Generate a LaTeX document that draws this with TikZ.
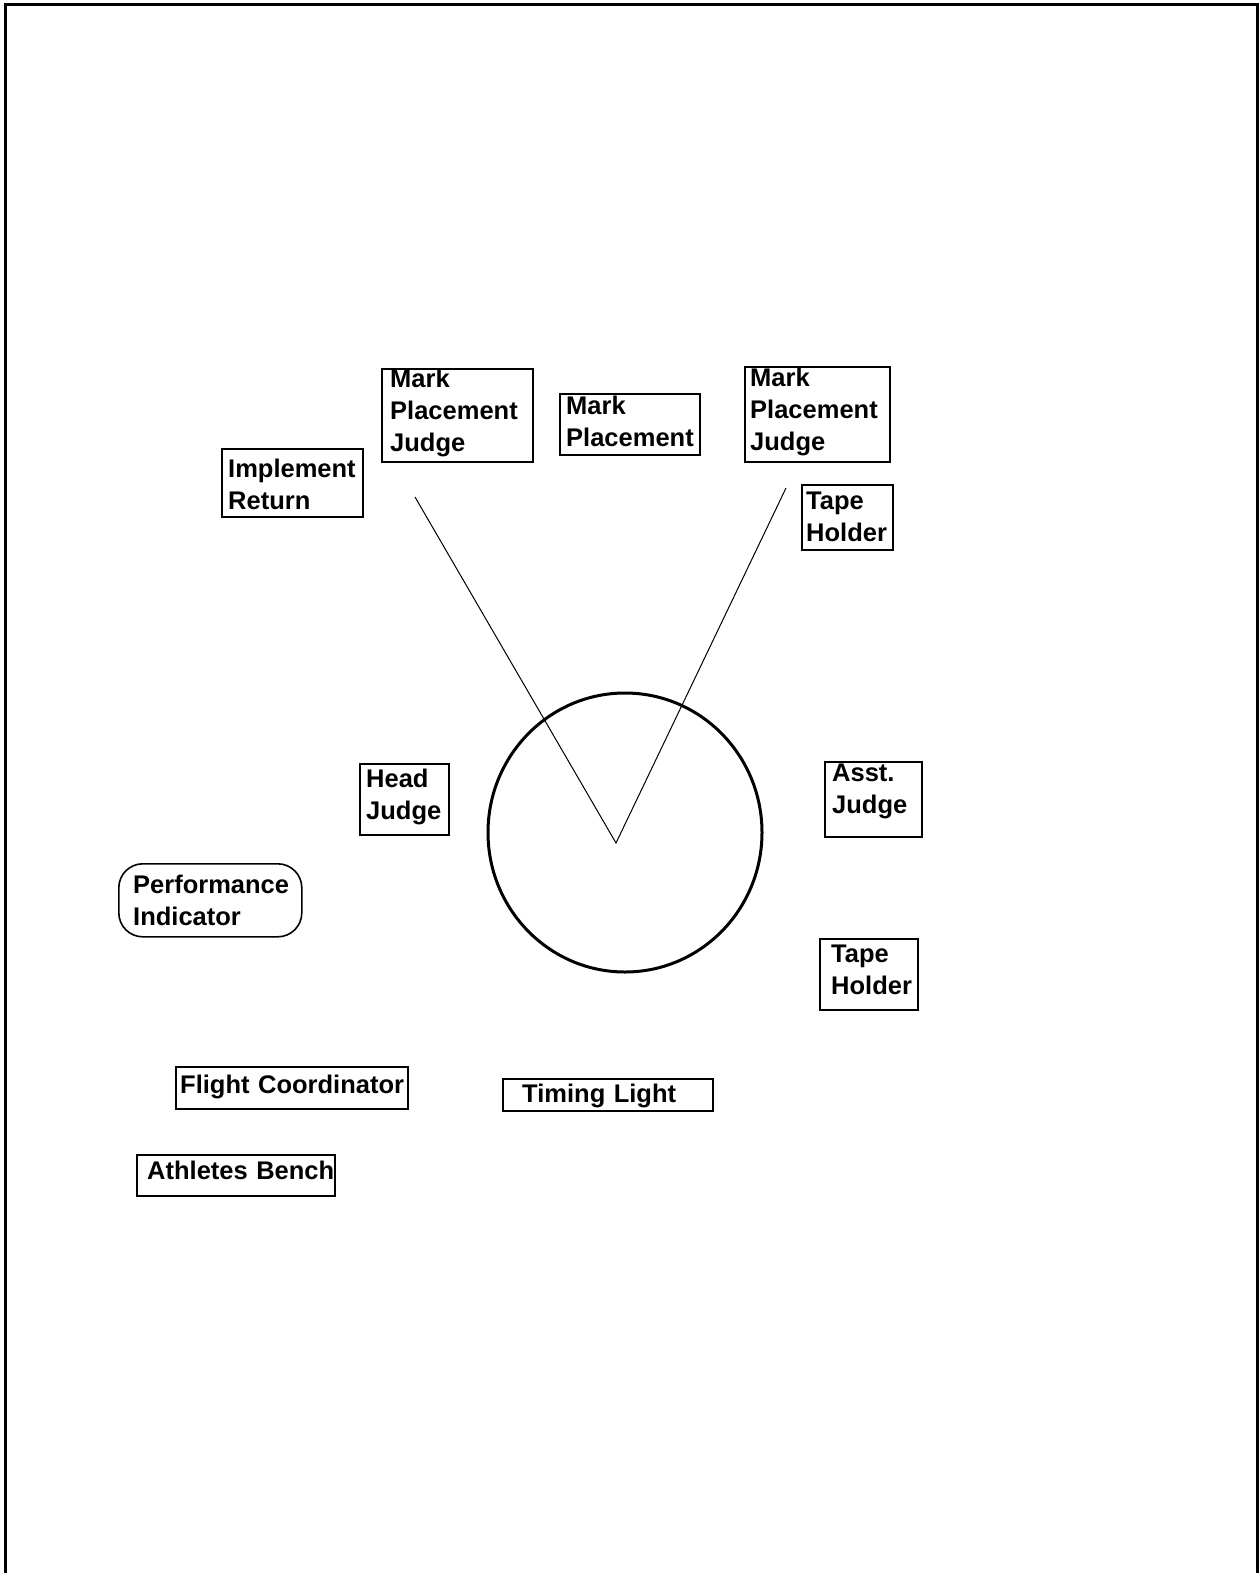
\documentclass[tikz,border=0pt]{standalone}
\usepackage{fontspec}
\setmainfont{Liberation Sans}
\begin{document}
\begin{tikzpicture}[x=1pt,y=-1pt,
  box/.style={draw, line width=1.6pt, inner sep=0pt, anchor=north west},
  lbl/.style={anchor=base west, inner sep=0pt, text width=230pt, align=left,
    font=\fontsize{25.5}{32}\selectfont\bfseries}]
\useasboundingbox (0,0) rectangle (1259,1573);
% frame (open at the bottom)
\draw[line width=3.3pt] (5.6,1590) -- (5.6,4.3) -- (1257.3,4.3) -- (1257.3,1590);

% circle and sector lines
\draw[line width=3pt] (625,832.5) ellipse [x radius=137, y radius=139.5];
\coordinate (apex) at (616,843);
\coordinate (lt) at (415,497);
\coordinate (rt) at (786,488);
\draw[line width=1pt] (lt) -- (apex) -- (rt);

% boxes
\node[box, minimum width=141pt, minimum height=68pt] (ir) at (221,448) {};
\node[box, minimum width=151pt, minimum height=93pt] (mpj1) at (381,368) {};
\node[box, minimum width=140pt, minimum height=61pt] (mp) at (559,393) {};
\node[box, minimum width=145pt, minimum height=95pt] (mpj2) at (744,366) {};
\node[box, minimum width=91pt, minimum height=65pt] (th1) at (801,484) {};
\node[box, minimum width=89pt, minimum height=71pt] (hj) at (359,763) {};
\node[box, rounded corners=24pt, minimum width=183pt, minimum height=73pt] (pi) at (118,863) {};
\node[box, minimum width=97pt, minimum height=75pt] (aj) at (824,761) {};
\node[box, minimum width=98pt, minimum height=71pt] (th2) at (819,938) {};
\node[box, minimum width=232pt, minimum height=42pt] (fc) at (175,1066) {};
\node[box, minimum width=210pt, minimum height=32pt] (tl) at (502,1078) {};
\node[box, minimum width=198pt, minimum height=41pt] (ab) at (136,1154) {};

% labels
\node[lbl] (ir-t) at (228,477) {Implement\\Return};
\node[lbl] (mpj1-t) at (390,387) {Mark\\Placement\\Judge};
\node[lbl] (mp-t) at (566,414) {Mark\\Placement};
\node[lbl] (mpj2-t) at (750,386) {Mark\\Placement\\Judge};
\node[lbl] (th1-t) at (806,509) {Tape\\Holder};
\node[lbl] (hj-t) at (366,787) {Head\\Judge};
\node[lbl] (pi-t) at (133,893) {Performance\\Indicator};
\node[lbl] (aj-t) at (832,781) {Asst.\\Judge};
\node[lbl] (th2-t) at (831,962) {Tape\\Holder};
\node[lbl] (fc-t) at (180,1093) {Flight Coordinator};
\node[lbl] (tl-t) at (522,1102) {Timing Light};
\node[lbl] (ab-t) at (147,1179) {Athletes Bench};
\end{tikzpicture}
\end{document}
